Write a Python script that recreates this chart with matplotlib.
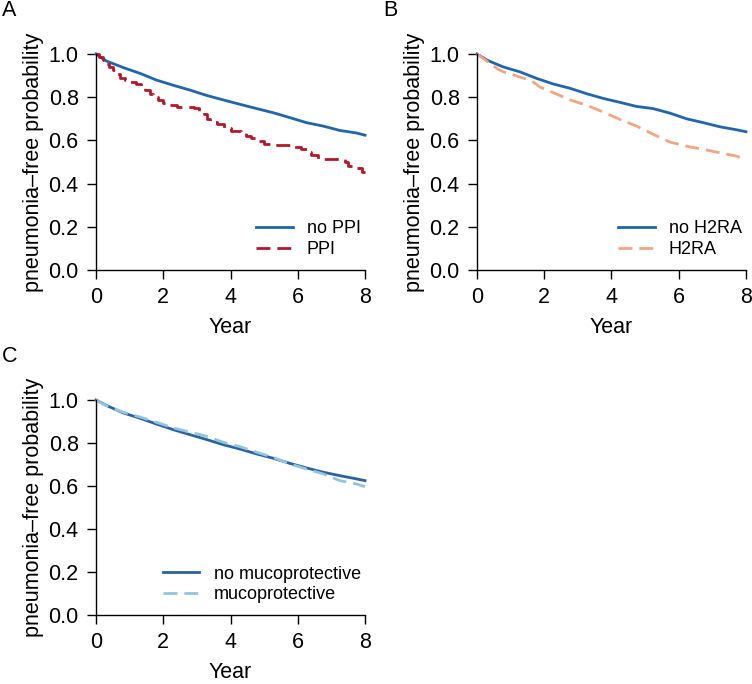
import matplotlib
matplotlib.use('Agg')
import matplotlib.pyplot as plt

plt.rcParams['font.family'] = ['Liberation Sans', 'DejaVu Sans']

# panel A: PPI
a_no_t = [0, 0.3, 0.81, 1.31, 1.8, 2.3, 2.79, 3.29, 3.79, 4.28, 4.78, 5.27, 5.77, 6.26, 6.76, 7.25, 7.75, 8]
a_no_s = [1.0, 0.968, 0.937, 0.910, 0.879, 0.855, 0.833, 0.808, 0.787, 0.767, 0.747, 0.728, 0.705, 0.682, 0.666, 0.646, 0.634, 0.624]
a_yes_t = [0, 0.1, 0.2, 0.3, 0.4, 0.5, 0.6, 0.7, 0.85, 1.0, 1.2, 1.35, 1.45, 1.6, 1.7, 1.85, 2.0, 2.2, 2.4,
           2.9, 3.05, 3.2, 3.3, 3.4, 3.6, 3.8, 4.0, 4.3, 4.45, 4.6, 4.85, 5.0, 5.2, 5.9, 6.1, 6.3, 6.4, 6.6,
           7.4, 7.5, 7.7, 7.9, 8]
a_yes_s = [1.0, 0.985, 0.97, 0.955, 0.94, 0.925, 0.905, 0.89, 0.88, 0.87, 0.86, 0.85, 0.835, 0.815, 0.80, 0.785,
           0.775, 0.765, 0.755, 0.75, 0.735, 0.72, 0.70, 0.685, 0.675, 0.655, 0.645, 0.635, 0.62, 0.61, 0.595,
           0.585, 0.58, 0.57, 0.56, 0.545, 0.53, 0.515, 0.50, 0.48, 0.47, 0.455, 0.455]

# panel B: H2RA
b_no_t = [0, 0.29, 0.78, 1.28, 1.77, 2.27, 2.77, 3.26, 3.76, 4.25, 4.75, 5.24, 5.74, 6.23, 6.73, 7.22, 7.72, 8]
b_no_s = [1.0, 0.972, 0.94, 0.917, 0.887, 0.861, 0.841, 0.816, 0.794, 0.776, 0.757, 0.747, 0.726, 0.70, 0.682, 0.663, 0.649, 0.64]
b_yes_t = [0, 0.29, 0.63, 0.78, 1.28, 1.63, 1.87, 2.27, 2.77, 3.26, 3.76, 4.25, 4.75, 5.24, 5.74, 6.23, 6.73, 7.22, 7.72, 8]
b_yes_s = [1.0, 0.967, 0.929, 0.918, 0.893, 0.875, 0.847, 0.821, 0.787, 0.763, 0.731, 0.697, 0.666, 0.628, 0.592, 0.573, 0.558, 0.543, 0.527, 0.512]

# panel C: mucoprotective
c_no_t = [0, 0.32, 0.81, 1.31, 1.8, 2.3, 2.79, 3.29, 3.79, 4.28, 4.78, 5.27, 5.77, 6.26, 6.76, 7.25, 7.75, 8]
c_no_s = [1.0, 0.974, 0.94, 0.915, 0.888, 0.862, 0.839, 0.816, 0.792, 0.772, 0.749, 0.729, 0.705, 0.684, 0.664, 0.648, 0.633, 0.625]
c_yes_t = [0, 0.32, 0.81, 1.31, 1.8, 2.3, 2.79, 3.29, 3.79, 4.28, 4.78, 5.27, 5.77, 6.26, 6.76, 7.25, 7.75, 8]
c_yes_s = [1.0, 0.972, 0.943, 0.921, 0.896, 0.870, 0.851, 0.831, 0.803, 0.783, 0.757, 0.733, 0.702, 0.679, 0.656, 0.625, 0.609, 0.597]

panels = [
    ('A', [0.1277, 0.6053, 0.3577, 0.3158], a_no_t, a_no_s, a_yes_t, a_yes_s, 'no PPI', 'PPI', '#2166ac', '#b2182b', 'steps-post'),
    ('B', [0.6343, 0.6053, 0.3577, 0.3158], b_no_t, b_no_s, b_yes_t, b_yes_s, 'no H2RA', 'H2RA', '#2166ac', '#f4a582', 'default'),
    ('C', [0.1277, 0.1009, 0.3577, 0.3143], c_no_t, c_no_s, c_yes_t, c_yes_s, 'no mucoprotective', 'mucoprotective', '#2a62a4', '#92c5de', 'default'),
]

fig = plt.figure(figsize=(7.52, 6.84), dpi=100)

for letter, rect, t0, s0, t1, s1, lab0, lab1, col0, col1, ds in panels:
    ax = fig.add_axes(rect)
    ax.plot(t0, s0, color=col0, lw=2.0, label=lab0, clip_on=False)
    ax.plot(t1, s1, color=col1, lw=2.0, ls=(0, (5, 2.5)), label=lab1, drawstyle=ds, clip_on=False)
    ax.set_xlim(0, 8)
    ax.set_ylim(0, 1)
    ax.set_xticks([0, 2, 4, 6, 8])
    ax.set_yticks([0, 0.2, 0.4, 0.6, 0.8, 1.0])
    ax.set_yticklabels(['0.0', '0.2', '0.4', '0.6', '0.8', '1.0'])
    for sp in ['top', 'right']:
        ax.spines[sp].set_visible(False)
    for sp in ['left', 'bottom']:
        ax.spines[sp].set_linewidth(1.0)
    ax.tick_params(direction='out', length=6.5, width=1.0, labelsize=15.5, pad=6)
    ax.set_xlabel('Year', fontsize=15.5, labelpad=6)
    ax.set_ylabel('pneumonia–free probability', fontsize=15.5, labelpad=3)
    ax.legend(loc='lower right', bbox_to_anchor=(0.985, 0.055), frameon=False, fontsize=13,
              handlelength=2.0, handletextpad=0.8, labelspacing=0.2, borderpad=0, borderaxespad=0)
    fig.text(rect[0] - 0.125, rect[1] + rect[3] + 0.048, letter, fontsize=15.5, va='bottom', ha='left')

fig.savefig('out.png', dpi=100)
